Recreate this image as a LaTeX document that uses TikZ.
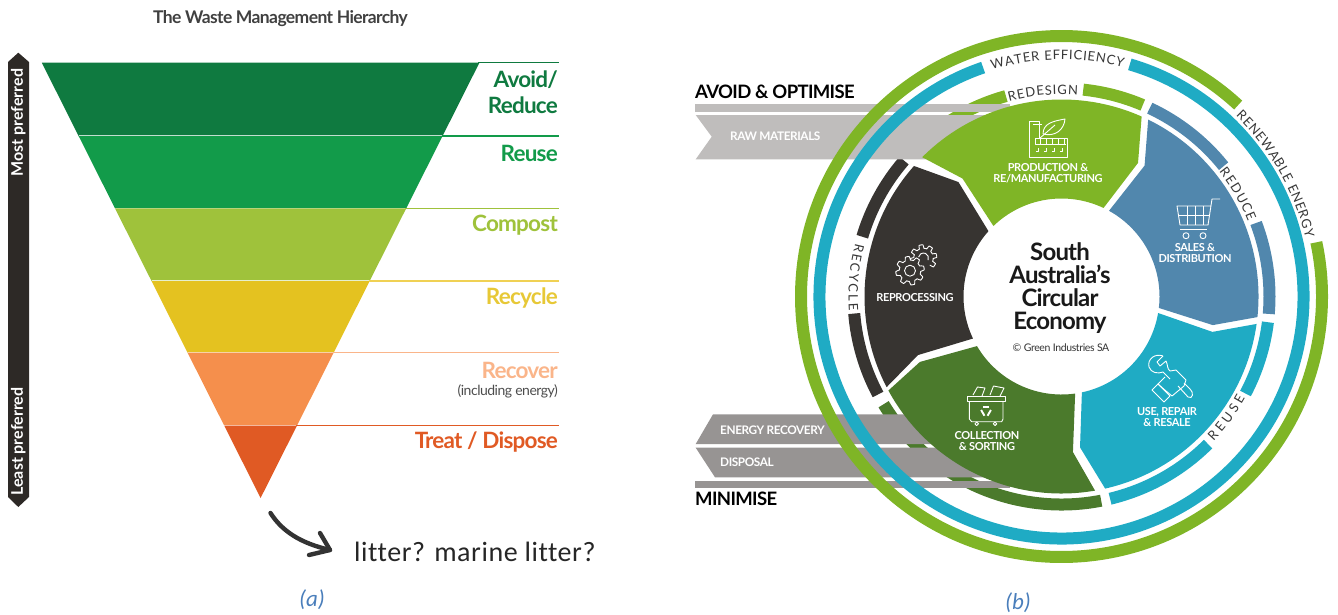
\documentclass[tikz,border=0pt]{standalone}
\usepackage{fontspec}
\setmainfont{Lato}
\newfontfamily\capfont{Carlito}
\newfontfamily\tightfont[LetterSpace=-3.5]{Lato}
\newfontfamily\handfont[LetterSpace=2,Ligatures=NoCommon]{Carlito}
\usetikzlibrary{decorations.text}

\definecolor{avoidcol}{HTML}{0F7A40}
\definecolor{reusecol}{HTML}{129B4A}
\definecolor{compostcol}{HTML}{9FC23B}
\definecolor{recyclecol}{HTML}{E4C220}
\definecolor{recovercol}{HTML}{F58F4C}
\definecolor{treatcol}{HTML}{E05A24}
\definecolor{recyclelite}{HTML}{F0D154}
\definecolor{recoverlite}{HTML}{FAB58A}
\definecolor{barcol}{HTML}{2D2926}
\definecolor{leafgreen}{HTML}{7FB526}
\definecolor{shopblue}{HTML}{5187AD}
\definecolor{ringcyan}{HTML}{1FABC4}
\definecolor{bingreen}{HTML}{4B7A2C}
\definecolor{gearblack}{HTML}{373431}
\definecolor{topgrey}{HTML}{BFBDBC}
\definecolor{lowgrey}{HTML}{979493}
\definecolor{capblue}{HTML}{4A7EBB}

\newcommand{\fs}[1]{\fontsize{#1}{#1}\selectfont}
\newcommand{\ringlabel}[4]{\path[decorate,decoration={text along path,
  text={|\fs{13}\color{black!78}|#4},text align={fit to path}}]
  (#1:#3) arc[start angle=#1,end angle=#2,radius=#3pt];}

\tikzset{
  levellabel/.style={anchor=east,inner sep=0pt,font=\tightfont\bfseries\fs{22.5}},
  wedgetext/.style={text=white,align=center,inner sep=0pt,font=\tightfont\bfseries\fs{11}},
  bandtext/.style={text=white,anchor=west,inner sep=0pt,font=\tightfont\bfseries\fs{11.8}},
  sidetext/.style={text=white,rotate=90,inner sep=0pt,font=\bfseries\fs{16}},
  headtext/.style={anchor=west,inner sep=0pt,font=\tightfont\bfseries\fs{18.5}},
  icon/.style={draw=white,line width=0.9pt,line join=round},
  ringarc/.style={line width=12pt},
  caption/.style={text=capblue,inner sep=0pt,font=\capfont\itshape\fs{23}}
}

\begin{document}
\begin{tikzpicture}[x=1pt,y=-1pt]
\useasboundingbox (0,0) rectangle (1338,614);

% left: the pyramid
\node[inner sep=0pt,text=black!75,font=\tightfont\bfseries\fs{17.5}] (wastetitle) at (280.5,19) {The Waste Management Hierarchy};

\fill[barcol] (18.3,52.7) -- (29,62) -- (29,497) -- (18.3,507) -- (8,497) -- (8,62) -- cycle;
\node[sidetext] (mostpref) at (18.3,122.5) {Most preferred};
\node[sidetext] (leastpref) at (18.3,441.5) {Least preferred};

\foreach \ya/\yb/\bandcol/\linecol in {62.7/136/avoidcol/avoidcol,136/208.3/reusecol/reusecol,
  208.3/281/compostcol/compostcol,281/352.7/recyclecol/recyclelite,
  352.7/425.7/recovercol/recoverlite,425.7/498/treatcol/treatcol}
{
  \pgfmathsetmacro{\xa}{(498-\ya)*0.5027}
  \pgfmathsetmacro{\xb}{(498-\yb)*0.5027}
  \fill[\bandcol] (260.6-\xa,\ya) -- (260.6+\xa,\ya) -- (260.6+\xb,\yb) -- (260.6-\xb,\yb) -- cycle;
  \draw[\linecol,line width=1.5pt] (260.6+\xa-1,\ya) -- (559,\ya);
  \draw[white,opacity=0.75,line width=1.3pt] (260.6-\xb,\yb) -- (260.6+\xb,\yb);
}

\node[levellabel,text=avoidcol] (avoidlab) at (558,80) {Avoid/};
\node[levellabel,text=avoidcol] (reducelab) at (558,105) {Reduce};
\node[levellabel,text=reusecol] (reuselab) at (558,153) {Reuse};
\node[levellabel,text=compostcol] (compostlab) at (558,225.5) {Compost};
\node[levellabel,text=recyclecol!90!white] (recyclelab) at (558,298.5) {Recycle};
\node[levellabel,text=recoverlite] (recoverlab) at (558,370) {Recover};
\node[anchor=east,inner sep=0pt,text=black!70,font=\tightfont\fs{14}] (energylab) at (558,391) {(including energy)};
\node[levellabel,text=treatcol] (treatlab) at (558,442.5) {Treat / Dispose};

\coordinate (litterfrom) at (270.5,513);
\coordinate (litterto) at (330,550);
\draw[line width=4.4pt,black!80,line cap=round,line join=round] (litterfrom) .. controls (282,531) and (300,543) .. (litterto);
\draw[line width=4.4pt,black!80,line cap=round,line join=round] (320,533) -- (litterto) -- (309,555);
\node[anchor=west,inner sep=0pt,text=black!85,font=\handfont\fs{28}] (litterlab) at (354,552) {litter? marine litter?};
\node[caption] (capa) at (312,600) {(a)};

% right: the loop
\begin{scope}[shift={(1061.5,296.5)},y=1pt]
  % inner ring pieces
  \draw[ringarc,leafgreen] (84:208) arc[start angle=84,end angle=67,radius=208pt];
  \draw[ringarc,leafgreen] (105.5:208) arc[start angle=105.5,end angle=130,radius=208pt];
  \draw[ringarc,gearblack] (139.2:208) arc[start angle=139.2,end angle=163.3,radius=208pt];
  \draw[ringarc,gearblack] (184.7:208) arc[start angle=184.7,end angle=208.1,radius=208pt];
  \draw[ringarc,bingreen] (211.2:208) arc[start angle=211.2,end angle=281,radius=208pt];
  \draw[ringarc,ringcyan] (283.5:208) arc[start angle=283.5,end angle=314.8,radius=208pt];
  \draw[ringarc,ringcyan] (332.2:208) arc[start angle=332.2,end angle=352.9,radius=208pt];
  \draw[ringarc,shopblue] (355.2:208) arc[start angle=355.2,end angle=380.7,radius=208pt];
  \draw[ringarc,shopblue] (398.8:208) arc[start angle=398.8,end angle=424.9,radius=208pt];
\end{scope}

% grey bands go over the inner ring
\fill[topgrey] (695,104) rectangle (1010,112.3);
\fill[topgrey] (695.7,115) -- (1010,115) -- (1010,159.3) -- (695.7,159.3) -- (711.7,136.7) -- cycle;
\fill[lowgrey] (713,414.3) -- (1000,414.3) -- (1000,444) -- (695.7,444) -- cycle;
\fill[lowgrey] (695.7,447.7) -- (1010,447.7) -- (1010,477.3) -- (715,477.3) -- cycle;
\fill[lowgrey] (695,480.7) rectangle (1010,488.3);

\begin{scope}[shift={(1061.5,296.5)},y=1pt]
  % outer rings
  \draw[ringarc,leafgreen] (47.3:260.5) arc[start angle=47.3,end angle=372,radius=260.5pt];
  \draw[ringarc,ringcyan] (73.6:242) arc[start angle=73.6,end angle=-251.1,radius=242pt];

  % wedges
  \fill[leafgreen] (66:197) arc[start angle=66,end angle=135,radius=197pt] -- (130:154) -- (134:98)
    arc[start angle=134,end angle=64.6,radius=98pt] -- (60.2:154) -- cycle;
  \fill[shopblue] (-6:197) arc[start angle=-6,end angle=63.9,radius=197pt] -- (57.6:155) -- (61:98)
    arc[start angle=61,end angle=-6.7,radius=98pt] -- (-10.7:154) -- cycle;
  \fill[ringcyan] (-77.2:197) arc[start angle=-77.2,end angle=-8,radius=197pt] -- (-13.2:155) -- (-9.7:98)
    arc[start angle=-9.7,end angle=-78,radius=98pt] -- (-83:152) -- cycle;
  \fill[bingreen] (208.5:197) arc[start angle=208.5,end angle=279.8,radius=197pt] -- (274.2:156) -- (278:98)
    arc[start angle=278,end angle=210.4,radius=98pt] -- (204.8:156) -- cycle;
  \fill[gearblack] (138.5:197) arc[start angle=138.5,end angle=207.4,radius=197pt] -- (202.2:155) -- (205.4:98)
    arc[start angle=205.4,end angle=138.2,radius=98pt] -- (132:154) -- cycle;

  % ring words
  \ringlabel{107}{75}{237}{WATER EFFICIENCY}
  \ringlabel{46}{13.5}{251}{RENEWABLE ENERGY}
  \ringlabel{105}{85.4}{202}{REDESIGN}
  \ringlabel{38.4}{21.8}{201}{REDUCE}
  \ringlabel{-43.6}{-29}{210}{REUSE}
  \ringlabel{165.5}{183.8}{213}{RECYCLE}
\end{scope}

% grey band words
\node[headtext] (avoidhead) at (695,92) {AVOID \& OPTIMISE};
\node[headtext] (minhead) at (695,499) {MINIMISE};
\node[bandtext] (rawlab) at (730,136.7) {RAW MATERIALS};
\node[bandtext] (recoverylab) at (720,430) {ENERGY RECOVERY};
\node[bandtext] (disposallab) at (720,462) {DISPOSAL};

% wedge words
\node[wedgetext] (prodlab) at (1048,173.5) {PRODUCTION \&\\RE/MANUFACTURING};
\node[wedgetext] (saleslab) at (1195,253.5) {SALES \&\\DISTRIBUTION};
\node[wedgetext] (reprolab) at (915,298) {REPROCESSING};
\node[wedgetext] (uselab) at (1167,417.5) {USE, REPAIR\\\& RESALE};
\node[wedgetext] (collectlab) at (987,441.5) {COLLECTION\\\& SORTING};

% centre
\node[align=center,inner sep=0pt,text=black!90,font=\tightfont\bfseries\fs{24}] (centrelab) at (1060,288) {South\\[-1pt]Australia’s\\[-1pt]Circular\\[-1pt]Economy};
\node[inner sep=0pt,text=black!80,font=\tightfont\fs{10.5}] (copylab) at (1061,348) {\textcopyright\ Green Industries SA};

% factory icon
\draw[icon] (1039,138) -- (1039,121) -- (1029,121) -- (1029,157) -- (1067,157) -- (1067,138) -- (1035,138) -- (1035,144) -- (1066,144);
\foreach \x in {1040,1046,1052,1058,1064}
  \draw[icon] (\x,138) -- (\x,144);
\foreach \x in {1038,1046,1054,1062}
  \draw[icon] (\x,148) -- (\x,151) -- (\x-2.5,151);
\draw[icon] (1033,124) -- (1042,124);
\draw[icon] (1043,134) .. controls (1043,123) and (1054,121) .. (1065,119) .. controls (1064,130) and (1055,137) .. (1043,134);
\draw[icon] (1040,138) -- (1055,125);

% cart icon
\draw[icon] (1220,199) -- (1212,199) -- (1208,225) -- (1180,225) -- (1177,206) -- (1211,206);
\draw[icon] (1179,215) -- (1209,215);
\foreach \x in {1187,1195,1203}
  \draw[icon] (\x,206) -- (\x,225);
\draw[icon] (1180,229) -- (1207,229);
\draw[icon] (1186,235.7) circle (3);
\draw[icon] (1203,235.7) circle (3);

% gear icon
\begin{scope}[shift={(910,270.7)},y=1pt]
  \draw[icon] plot[samples=97,domain=0:360,variable=\t] (\t:{12.5+1.8*sign(sin(8*\t))});
  \draw[icon] (0,0) circle (5.5);
\end{scope}
\begin{scope}[shift={(923.5,258)},y=1pt]
  \draw[icon] plot[samples=97,domain=-50:190,variable=\t] (\t:{11.5+1.8*sign(sin(8*\t))});
  \draw[icon] (-25:5) arc[start angle=-25,end angle=170,radius=5pt];
\end{scope}

% wrench icon
\draw[icon] (1163,356) .. controls (1155,353) and (1147,359) .. (1149,367) .. controls (1151,373) and (1158,374) .. (1163,372) -- (1170,379);
\draw[icon] (1163,356) -- (1157,362) -- (1160,366) -- (1166,361) .. controls (1168,365) and (1167,369) .. (1170,371);
\draw[icon] (1178,386) -- (1188,397) .. controls (1193,400) and (1194,392) .. (1190,389) -- (1184,383);
\draw[icon] (1170,371) -- (1176,370) -- (1186,380) -- (1184,386) -- (1172,396) -- (1166,391) -- (1158,384) -- (1165,377);
\draw[icon] (1152,390) -- (1158,384) -- (1170,396) -- (1164,402) -- cycle;

% bin icon
\draw[icon] (969.3,401.7) -- (969.3,419) -- (971.7,421.7) -- (1001.7,421.7) -- (1003,419) -- (1003,401.7);
\draw[icon] (967.3,396.7) rectangle (1005,401.7);
\draw[icon] (976.7,423.8) circle (1.8);
\draw[icon] (995,423.8) circle (1.8);
\draw[icon] (973,395) -- (977.5,387) -- (985,388) -- (982,396);
\draw[icon] (990,395) -- (993.5,386) -- (1004,388) -- (1000,396);
\begin{scope}[shift={(986,411)},y=1pt]
  \foreach \a in {90,210,330}
    \draw[white,line width=1.9pt] (\a-42:5) -- (\a+42:5);
\end{scope}

\node[caption] (capb) at (1018,603) {(b)};
\end{tikzpicture}
\end{document}
